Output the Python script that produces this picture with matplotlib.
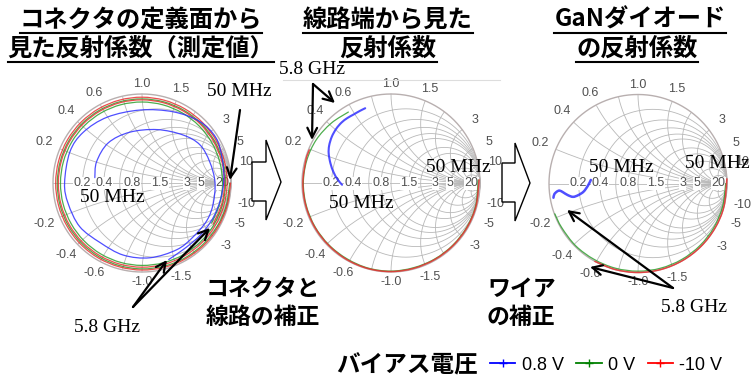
import numpy as np
import matplotlib
matplotlib.use('Agg')
import matplotlib.pyplot as plt
from matplotlib.lines import Line2D
from matplotlib.patches import Polygon, PathPatch
from matplotlib.path import Path

JP = ['Noto Sans CJK JP', 'DejaVu Sans']
SERIF = 'Liberation Serif'
SANS = 'Liberation Sans'

BLUE = '#3030ff'
GREEN = '#2f9f2f'
RED = '#e83030'

# Smith chart grid values and labels
r_grid = [0.2, 0.4, 0.6, 0.8, 1.0, 1.5, 2, 3, 5, 10, 20]
x_grid = [0.2, 0.4, 0.6, 0.8, 1.0, 1.5, 2, 3, 5, 10, 20]
x_labels = [0.2, 0.4, 0.6, 1.0, 1.5, 3, 5, 10]
x_label_txt = ['0.2', '0.4', '0.6', '1.0', '1.5', '3', '5', '10']
r_labels = [0.2, 0.4, 0.8, 1.5, 3, 5, 20]
r_label_txt = ['0.2', '0.4', '0.8', '1.5', '3', '5', '20']

# --- chart 1: measured at connector reference plane ---
c1_blue_re = [-0.53, -0.51, -0.38, -0.14, 0.17, 0.46, 0.65, 0.76, 0.82, 0.80,
              0.73, 0.57, 0.39, 0.09, -0.21, -0.47, -0.70, -0.83, -0.87, -0.81,
              -0.66, -0.39, -0.02, 0.35, 0.65, 0.83, 0.90, 0.92, 0.88, 0.81,
              0.72, 0.61, 0.46, 0.30]
c1_blue_im = [0.06, 0.24, 0.45, 0.57, 0.60, 0.54, 0.43, 0.24, 0.01, -0.23,
              -0.42, -0.61, -0.75, -0.84, -0.81, -0.67, -0.49, -0.23, 0.00, 0.35,
              0.57, 0.74, 0.82, 0.80, 0.69, 0.51, 0.28, 0.03, -0.19, -0.37,
              -0.51, -0.63, -0.75, -0.86]
c1_angle = [0, -15, -30, -45, -60, -75, -90, -105, -120, -135,
            -150, -165, -180, -195, -210, -225, -240, -255, -270, -285,
            -300, -315, -330, -345, -360, -375, -390, -405, -420, -435,
            -450, -465, -480, -495, -510, -525, -540, -555, -570, -585,
            -600, -615, -630, -645, -660, -675, -690, -705, -720, -735,
            -750]
c1_red_mag = [0.995, 0.99, 0.987, 0.985, 0.982, 0.98, 0.978, 0.976, 0.975, 0.974,
              0.972, 0.971, 0.97, 0.969, 0.968, 0.967, 0.966, 0.965, 0.964, 0.963,
              0.962, 0.961, 0.96, 0.958, 0.956, 0.954, 0.952, 0.95, 0.948, 0.947,
              0.946, 0.945, 0.944, 0.943, 0.942, 0.941, 0.94, 0.939, 0.938, 0.937,
              0.936, 0.935, 0.934, 0.933, 0.932, 0.931, 0.93, 0.929, 0.928, 0.926,
              0.924]
c1_green_mag = [0.985, 0.98, 0.975, 0.972, 0.97, 0.967, 0.965, 0.962, 0.96, 0.958,
                0.956, 0.954, 0.952, 0.95, 0.949, 0.948, 0.947, 0.946, 0.945, 0.944,
                0.943, 0.942, 0.941, 0.94, 0.938, 0.936, 0.934, 0.932, 0.93, 0.928,
                0.926, 0.924, 0.922, 0.92, 0.918, 0.917, 0.916, 0.915, 0.914, 0.913,
                0.912, 0.911, 0.91, 0.909, 0.908, 0.907, 0.906, 0.905, 0.905, 0.904,
                0.903]

# --- chart 2: seen from the line end ---
c2_blue_re = [-0.55, -0.60, -0.645, -0.68, -0.70, -0.695, -0.665, -0.615, -0.555,
              -0.49, -0.42, -0.35, -0.29]
c2_blue_im = [-0.02, 0.04, 0.12, 0.22, 0.33, 0.42, 0.52, 0.61, 0.68,
              0.73, 0.77, 0.81, 0.84]
c2_red_angle = [2, -15, -30, -45, -60, -75, -90, -105, -120, -135, -150, -165,
                -180, -195, -202]
c2_red_mag = [0.99, 0.99, 0.99, 0.99, 0.99, 0.992, 0.995, 0.995, 0.993, 0.99,
              0.99, 0.99, 0.99, 0.99, 0.99]
c2_green_angle = [2, -15, -30, -45, -60, -75, -90, -105, -120, -135, -150, -165,
                  -180, -195, -210, -225, -239]
c2_green_mag = [0.98, 0.985, 0.985, 0.985, 0.985, 0.985, 0.99, 0.99, 0.985, 0.985,
                0.985, 0.985, 0.985, 0.98, 0.97, 0.95, 0.93]

# --- chart 3: GaN diode ---
c3_blue_re = [-0.53, -0.56, -0.61, -0.67, -0.73, -0.79, -0.84, -0.88, -0.91, -0.94, -0.95]
c3_blue_im = [0.04, -0.02, -0.09, -0.13, -0.15, -0.13, -0.10, -0.08, -0.09, -0.12, -0.16]
c3_red_angle = [3, -15, -30, -45, -60, -75, -90, -105, -119]
c3_red_mag = [1.0, 1.0, 1.0, 1.0, 1.0, 1.0, 1.0, 1.0, 1.0]
c3_green_angle = [0, -15, -30, -45, -60, -75, -90, -105, -120, -135, -150, -160]
c3_green_mag = [0.985, 0.985, 0.985, 0.985, 0.985, 0.985, 0.985, 0.985, 0.985,
                0.99, 0.99, 0.995]

legend_labels = ['0.8 V', '0 V', '-10 V']

W, H = 752, 375
fig = plt.figure(figsize=(W / 100, H / 100), dpi=100)

R_PX = 89
LIM = 1.3


def smith_axes(cx, cy):
    side = 2 * LIM * R_PX
    ax = fig.add_axes([(cx - side / 2) / W, (H - cy - side / 2) / H, side / W, side / H])
    ax.set_xlim(-LIM, LIM)
    ax.set_ylim(-LIM, LIM)
    ax.set_aspect('equal')
    ax.axis('off')
    return ax


def smith_grid(ax):
    t = np.linspace(0, 2 * np.pi, 721)
    kw = dict(color='#b8b8b8', lw=0.6, zorder=1)
    for r in r_grid:
        c, rad = r / (1 + r), 1 / (1 + r)
        ax.plot(c + rad * np.cos(t), rad * np.sin(t), **kw)
    for x in x_grid:
        for s in (1, -1):
            px = 1 + np.cos(t) / x
            py = s / x + np.sin(t) / x
            inside = px ** 2 + py ** 2 <= 1.0005
            ax.plot(np.where(inside, px, np.nan), np.where(inside, py, np.nan), **kw)
    ax.plot([-1, 1], [0, 0], **kw)
    ax.plot(np.cos(t), np.sin(t), color='#b8afaf', lw=1.0, zorder=1)

    for x, lab in zip(x_labels, x_label_txt):
        th = np.pi - 2 * np.arctan(x)
        rr = 1.11 + 0.09 * abs(np.cos(th))
        ax.text(rr * np.cos(th), rr * np.sin(th), lab, ha='center', va='center',
                fontsize=9, color='#505050', family=SANS)
        ax.text(rr * np.cos(th), -rr * np.sin(th), '-' + lab, ha='center', va='center',
                fontsize=9, color='#505050', family=SANS)
    for r, lab in zip(r_labels, r_label_txt):
        ax.text((r - 1) / (r + 1), 0, lab, ha='center', va='center', fontsize=9,
                color='#505050', family=SANS, zorder=2,
                bbox=dict(fc='white', ec='none', pad=0.4))


def smooth_curve(ax, xs, ys, color, lw=0.9):
    # Catmull-Rom through the read points, drawn as cubic Bezier segments
    p = np.column_stack([xs, ys]).astype(float)
    n = len(p)
    verts, codes = [p[0]], [Path.MOVETO]
    for i in range(n - 1):
        p0 = p[i - 1] if i > 0 else p[i]
        p1, p2 = p[i], p[i + 1]
        p3 = p[i + 2] if i + 2 < n else p[i + 1]
        verts += [p1 + (p2 - p0) / 6, p2 - (p3 - p1) / 6, p2]
        codes += [Path.CURVE4] * 3
    ax.add_patch(PathPatch(Path(verts, codes), fc='none', ec=color, lw=lw,
                           alpha=0.85, zorder=3, capstyle='round'))


def polar_curve(ax, ang, mag, color, lw=0.9):
    a = np.radians(ang)
    m = np.asarray(mag)
    smooth_curve(ax, m * np.cos(a), m * np.sin(a), color, lw)


ax1 = smith_axes(142, 183)
ax2 = smith_axes(391, 183)
ax3 = smith_axes(638, 183.5)
for ax in (ax1, ax2, ax3):
    smith_grid(ax)

polar_curve(ax1, c1_angle, c1_green_mag, GREEN)
polar_curve(ax1, c1_angle, c1_red_mag, RED)
smooth_curve(ax1, c1_blue_re, c1_blue_im, BLUE, 0.9)

polar_curve(ax2, c2_green_angle, c2_green_mag, GREEN)
polar_curve(ax2, c2_red_angle, c2_red_mag, RED, 1.1)
smooth_curve(ax2, c2_blue_re, c2_blue_im, BLUE, 1.5)

polar_curve(ax3, c3_green_angle, c3_green_mag, GREEN)
polar_curve(ax3, c3_red_angle, c3_red_mag, RED, 1.1)
smooth_curve(ax3, c3_blue_re, c3_blue_im, BLUE, 1.8)

# overlay in pixel coordinates for titles, notes and arrows
ov = fig.add_axes([0, 0, 1, 1])
ov.set_xlim(0, W)
ov.set_ylim(H, 0)
ov.axis('off')

ov.plot([283, 500], [80, 80], color='#dddddd', lw=0.8)

titles = [
    (141, 20, 'コネクタの定義面から'), (141, 49, '見た反射係数（測定値）'),
    (388, 20, '線路端から見た'), (388, 49, '反射係数'),
    (640, 20, 'GaNダイオード'), (637, 49, 'の反射係数'),
]
title_objs = []
for x, y, s in titles:
    t = ov.text(x, y, s, ha='center', va='center', fontsize=17.5,
                fontweight='bold', family=JP)
    title_objs.append((t, y))

note_kw = dict(fontsize=16.5, fontweight='bold', family=JP, ha='left', va='center')
ov.text(206, 289, 'コネクタと', **note_kw)
ov.text(206, 317, '線路の補正', **note_kw)
ov.text(487, 289, 'ワイア', **note_kw)
ov.text(487, 317, 'の補正', **note_kw)

freq_kw = dict(fontsize=14, family=SERIF, ha='center', va='center')
ov.text(207, 92, '50 MHz', fontsize=14, family=SERIF, ha='left', va='center')
ov.text(112, 198, '50 MHz', **freq_kw)
ov.text(107, 327, '5.8 GHz', **freq_kw)
ov.text(312, 70, '5.8 GHz', **freq_kw)
ov.text(458, 167, '50 MHz', **freq_kw)
ov.text(361, 203, '50 MHz', **freq_kw)
ov.text(621, 168, '50 MHz', **freq_kw)
ov.text(717, 163, '50 MHz', **freq_kw)
ov.text(694, 307, '5.8 GHz', **freq_kw)

arrow_kw = dict(arrowstyle='->,head_length=0.7,head_width=0.35', color='black',
                lw=1.6, shrinkA=0, shrinkB=0)
arrows = [
    ((240, 110), (230, 180)),
    ((133, 307), (210, 228)), ((133, 307), (167, 260)),
    ((313, 84), (312, 140)), ((313, 84), (335, 103)),
    ((673, 288), (567, 210)), ((673, 288), (590, 267)),
]
for start, tip in arrows:
    ov.annotate('', xy=tip, xytext=start, arrowprops=arrow_kw)

# hollow block arrows between the charts
for x0, top, bot, hb, htop, hbot, tip, ty in [
        (252, 162, 201, 266, 140, 220, 281, 182),
        (502, 163, 202, 515, 143, 221, 530, 183)]:
    verts = [(x0, top), (hb, top), (hb, htop), (tip, ty), (hb, hbot), (hb, bot), (x0, bot)]
    ov.add_patch(Polygon(verts, closed=True, fc='white', ec='black', lw=1.0))

# legend
ov.text(336, 365, 'バイアス電圧', fontsize=17, fontweight='bold', family=JP,
        ha='left', va='center')
handles = [Line2D([], [], color=c, lw=1.3, marker='+', ms=6, mew=1.0)
           for c in ('#0000ff', '#008000', '#ff0000')]
fig.legend(handles, legend_labels, loc='center left',
           bbox_to_anchor=(490 / W, 1 - 365 / H), ncol=3, frameon=False,
           prop={'family': SANS, 'size': 13}, handlelength=1.4,
           handletextpad=0.35, columnspacing=0.7, borderpad=0, borderaxespad=0)

# underline the titles
fig.canvas.draw()
for t, y in title_objs:
    bb = t.get_window_extent()
    ov.plot([bb.x0, bb.x1], [y + 13, y + 13], color='black', lw=1.5)

fig.savefig('out.png', dpi=100)
